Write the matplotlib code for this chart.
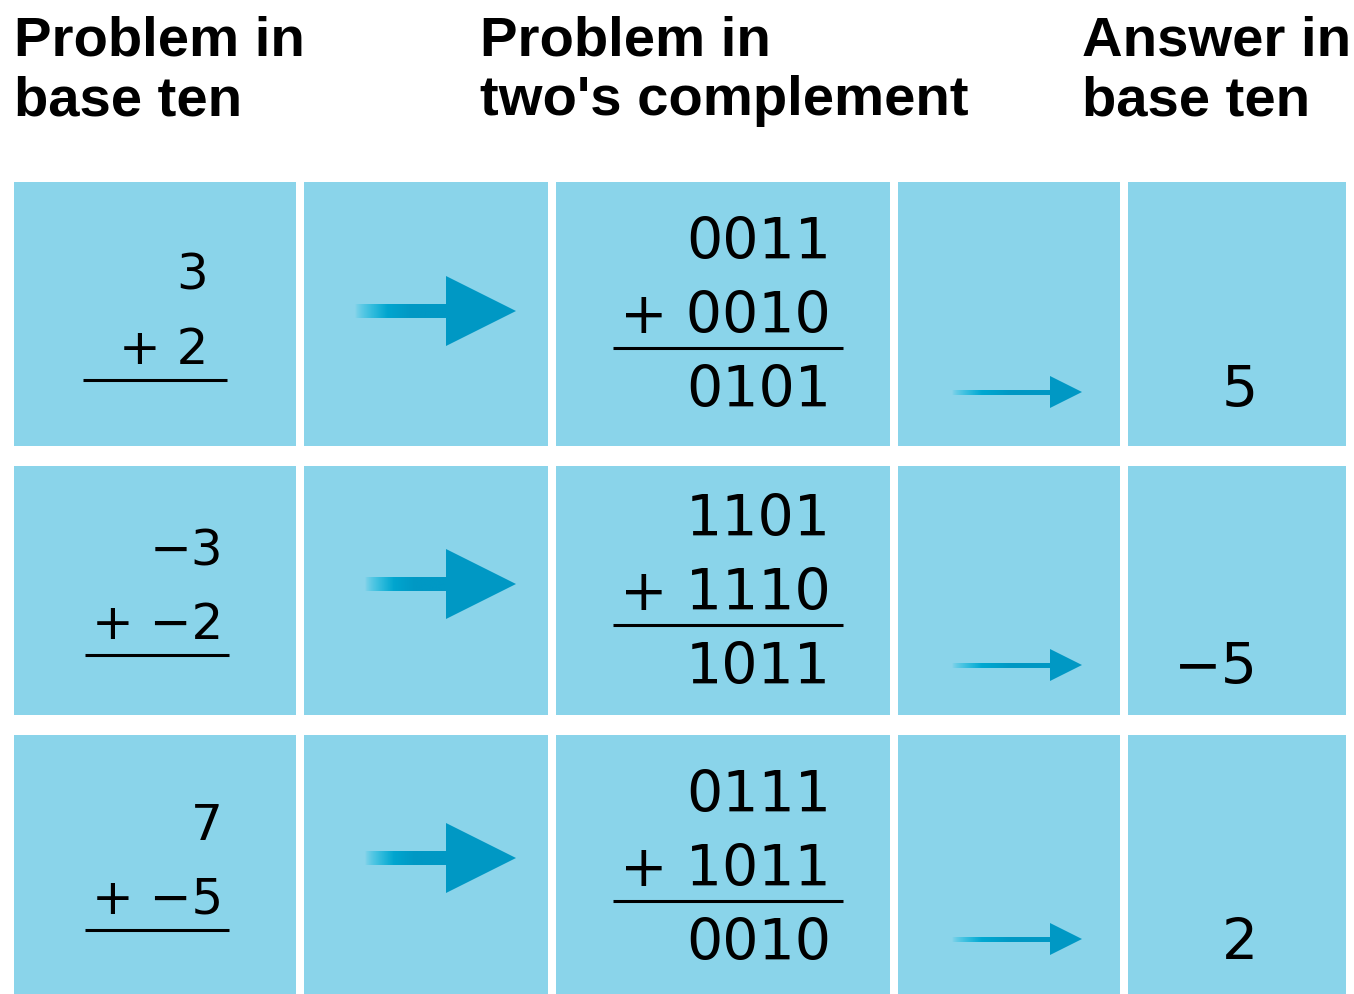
import numpy as np
import matplotlib
matplotlib.use('Agg')
import matplotlib.pyplot as plt
from matplotlib.patches import Rectangle, Polygon

# Data
headers = [['Problem in', 'base ten'],
           ['Problem in', "two's complement"],
           ['Answer in', 'base ten']]
top_ops    = ['3', '\u22123', '7']
bottom_ops = ['+ 2', '+ \u22122', '+ \u22125']
bin_top    = ['0011', '1101', '0111']
bin_bottom = ['+ 0010', '+ 1110', '+ 1011']
bin_sum    = ['0101', '1011', '0010']
answers    = ['5', '\u22125', '2']

# Layout (pixel units)
W, H = 1354, 995
col_edges = [(14, 296), (304, 548), (556, 890), (898, 1120), (1128, 1346)]
row_edges = [(183, 447), (467, 716), (736, 1000)]
header_x = [14, 480, 1082]
cell_col = '#8AD4EA'
arrow_col = '#0098C4'
tail_col = '#00B8DE'
num_font = 'DejaVu Sans'
small_size = 36
num_size = 41

fig = plt.figure(figsize=(W / 100, H / 100), dpi=100)
ax = fig.add_axes([0, 0, 1, 1])
ax.set_xlim(0, W)
ax.set_ylim(H, 0)
ax.axis('off')

for x, lines in zip(header_x, headers):
    for k, s in enumerate(lines):
        ax.text(x, 55 + 60 * k, s, fontsize=40.5, fontweight='bold',
                family='Liberation Sans', ha='left', va='baseline')

for (y0, y1) in row_edges:
    for (x0, x1) in col_edges:
        ax.add_patch(Rectangle((x0, y0), x1 - x0, y1 - y0, color=cell_col, lw=0))


def draw_arrow(x0, x1, yc, shaft, head_len, head_h, fade):
    # shaft with a fading tail
    xs = x1 - head_len + 2
    grad = np.ones((1, 200, 4))
    c_tail = np.array(matplotlib.colors.to_rgb(tail_col))
    c_main = np.array(matplotlib.colors.to_rgb(arrow_col))
    t = np.linspace(0, 1, 200)
    mix = np.clip(t / 0.6, 0, 1)[:, None]
    grad[0, :, :3] = c_tail * (1 - mix) + c_main * mix
    grad[0, :, 3] = np.clip(t / fade, 0, 1) ** 0.7
    ax.imshow(grad, extent=(x0, xs, yc + shaft / 2, yc - shaft / 2),
              aspect='auto', interpolation='bilinear', zorder=3)
    ax.add_patch(Polygon([(x1 - head_len, yc - head_h / 2), (x1, yc),
                          (x1 - head_len, yc + head_h / 2)],
                         closed=True, color=arrow_col, lw=0, zorder=4))


big_arrow_y = [312, 585, 859]
big_arrow_x0 = [355, 365, 365]
small_arrow_y = [393, 666, 940]
left_right = [208, 223, 223]

for i in range(3):
    (y0, y1) = row_edges[i]
    # base ten problem
    yb = [290, 565, 840][i]
    ax.text(left_right[i], yb, top_ops[i], family=num_font, fontsize=small_size,
            ha='right', va='baseline')
    ax.text(left_right[i], yb + 74, bottom_ops[i], family=num_font, fontsize=small_size,
            ha='right', va='baseline')
    lx0 = [83, 85, 85][i]
    ax.plot([lx0, lx0 + 144], [yb + 91, yb + 91], color='k', lw=2.2,
            solid_capstyle='butt')

    # big arrow
    draw_arrow(big_arrow_x0[i], 516, big_arrow_y[i], 14, 70, 70, 0.35)

    # two's complement problem
    yt = [259, 536, 812][i]
    ax.text(831, yt, bin_top[i], family=num_font, fontsize=num_size,
            ha='right', va='baseline')
    ax.text(831, yt + 74, bin_bottom[i], family=num_font, fontsize=num_size,
            ha='right', va='baseline')
    ax.plot([613, 843], [yt + 90, yt + 90], color='k', lw=2.2,
            solid_capstyle='butt')
    ax.text(831, yt + 148, bin_sum[i], family=num_font, fontsize=num_size,
            ha='right', va='baseline')

    # small arrow
    draw_arrow(952, 1082, small_arrow_y[i], 5, 32, 32, 0.3)

    # answer
    ax.text(1258, yt + 148, answers[i], family=num_font, fontsize=num_size,
            ha='right', va='baseline')

fig.savefig('out.png', dpi=100, facecolor='white')
